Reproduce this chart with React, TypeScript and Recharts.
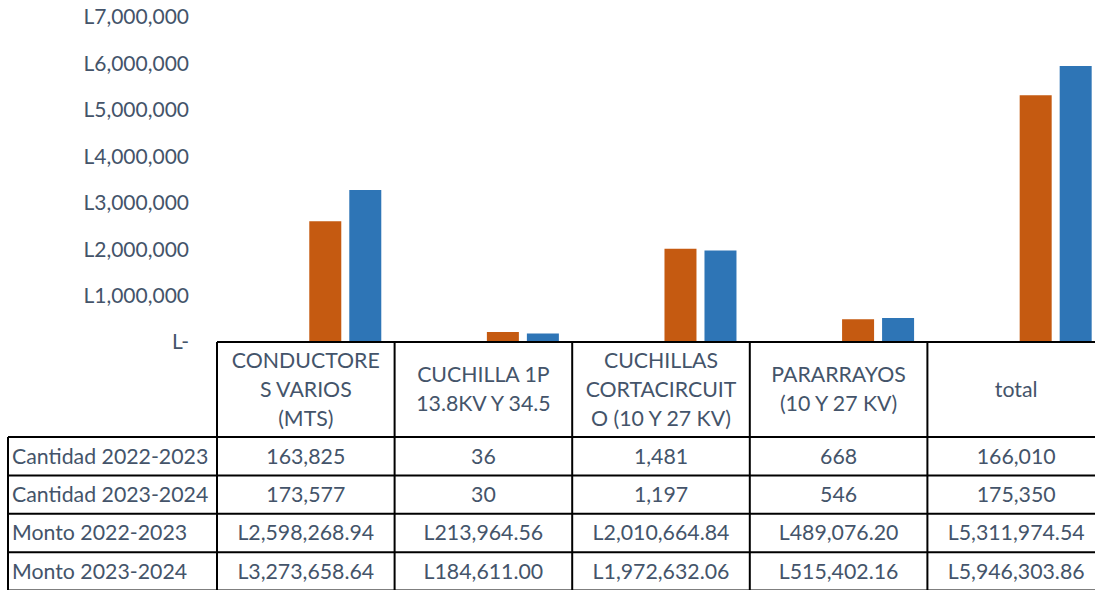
import { BarChart, Bar, XAxis, YAxis } from "recharts";

const categories = [
  "CONDUCTORES VARIOS (MTS)",
  "CUCHILLA 1P 13.8KV Y 34.5",
  "CUCHILLAS CORTACIRCUITO (10 Y 27 KV)",
  "PARARRAYOS (10 Y 27 KV)",
  "total",
];
// the way Excel wrapped the header cells
const headerLines = [
  ["CONDUCTORE", "S VARIOS", "(MTS)"],
  ["CUCHILLA 1P", "13.8KV Y 34.5"],
  ["CUCHILLAS", "CORTACIRCUIT", "O (10 Y 27 KV)"],
  ["PARARRAYOS", "(10 Y 27 KV)"],
  ["total"],
];
const cantidad2022 = [163825, 36, 1481, 668, 166010];
const cantidad2023 = [173577, 30, 1197, 546, 175350];
const monto2022 = [2598268.94, 213964.56, 2010664.84, 489076.2, 5311974.54];
const monto2023 = [3273658.64, 184611.0, 1972632.06, 515402.16, 5946303.86];
const yTicks = [0, 1000000, 2000000, 3000000, 4000000, 5000000, 6000000, 7000000];
const rowLabels = ["Cantidad 2022-2023", "Cantidad 2023-2024", "Monto 2022-2023", "Monto 2023-2024"];

const FONT = "Lato, 'Open Sans', sans-serif";
const TEXT = "#44546A";
const ORANGE = "#C55A11";
const BLUE = "#2E75B6";

const fmtQty = (v: number) => v.toLocaleString("en-US");
const fmtMoney = (v: number) =>
  "L" + v.toLocaleString("en-US", { minimumFractionDigits: 2, maximumFractionDigits: 2 });
const fmtTick = (v: number) => (v === 0 ? "L-" : "L" + v.toLocaleString("en-US"));

const data = categories.map((name, i) => ({
  name,
  m2022: monto2022[i],
  m2023: monto2023[i],
}));

const tableRows = [
  cantidad2022.map(fmtQty),
  cantidad2023.map(fmtQty),
  monto2022.map(fmtMoney),
  monto2023.map(fmtMoney),
];

// table geometry
const colLeft = 217;
const colW = 177.6;
const headTop = 342;
const headBottom = 437;
const rowH = 38.4;
const labelLeft = 8;

const DataTable = () => {
  const right = colLeft + colW * categories.length;
  const bottom = headBottom + rowH * rowLabels.length;
  const lines = [];
  lines.push(<line key="h0" x1={colLeft} x2={right} y1={headTop} y2={headTop} />);
  for (let r = 0; r <= rowLabels.length; r++) {
    const y = headBottom + r * rowH;
    lines.push(<line key={"h" + (r + 1)} x1={labelLeft} x2={right} y1={y} y2={y} />);
  }
  lines.push(<line key="v0" x1={labelLeft} x2={labelLeft} y1={headBottom} y2={bottom} />);
  for (let c = 0; c <= categories.length; c++) {
    const x = colLeft + c * colW;
    lines.push(<line key={"v" + (c + 1)} x1={x} x2={x} y1={headTop} y2={bottom} />);
  }
  const headMid = (headTop + headBottom) / 2;
  return (
    <svg
      width={1095}
      height={590}
      style={{ position: "absolute", left: 0, top: 0, pointerEvents: "none" }}
    >
      <g stroke="#000" strokeWidth={2}>{lines}</g>
      <g fill={TEXT} fontFamily={FONT} fontSize={21.3} textAnchor="middle">
        {headerLines.map((ls, c) =>
          ls.map((t, k) => (
            <text
              key={c + "-" + k}
              x={colLeft + c * colW + colW / 2}
              y={headMid + (k - (ls.length - 1) / 2) * 29}
              dy="0.35em"
            >
              {t}
            </text>
          ))
        )}
        {tableRows.map((row, r) =>
          row.map((t, c) => (
            <text
              key={"d" + r + "-" + c}
              x={colLeft + c * colW + colW / 2}
              y={headBottom + r * rowH + rowH / 2}
              dy="0.35em"
            >
              {t}
            </text>
          ))
        )}
        {rowLabels.map((t, r) => (
          <text
            key={"l" + r}
            x={labelLeft + 4}
            y={headBottom + r * rowH + rowH / 2}
            dy="0.35em"
            textAnchor="start"
          >
            {t}
          </text>
        ))}
      </g>
    </svg>
  );
};

export default function App() {
  return (
    <div
      style={{
        position: "absolute",
        left: 0,
        top: 0,
        width: 1095,
        height: 590,
        overflow: "hidden",
        background: "#fff",
      }}
    >
      <div style={{ position: "absolute", left: 0, top: 0 }}>
        <BarChart
          width={1144}
          height={362}
          data={data}
          margin={{ top: 17, right: 0, bottom: 20, left: 0 }}
          barCategoryGap="30%"
          barGap={8}
        >
          <XAxis dataKey="name" hide />
          <YAxis
            width={256}
            domain={[0, 7000000]}
            ticks={yTicks}
            interval={0}
            tickFormatter={fmtTick}
            axisLine={false}
            tickLine={false}
            tickSize={0}
            tickMargin={67}
            tick={{ fill: TEXT, fontSize: 21, fontFamily: FONT }}
          />
          <Bar dataKey="m2022" fill={ORANGE} isAnimationActive={false} />
          <Bar dataKey="m2023" fill={BLUE} isAnimationActive={false} />
        </BarChart>
      </div>
      <DataTable />
    </div>
  );
}
